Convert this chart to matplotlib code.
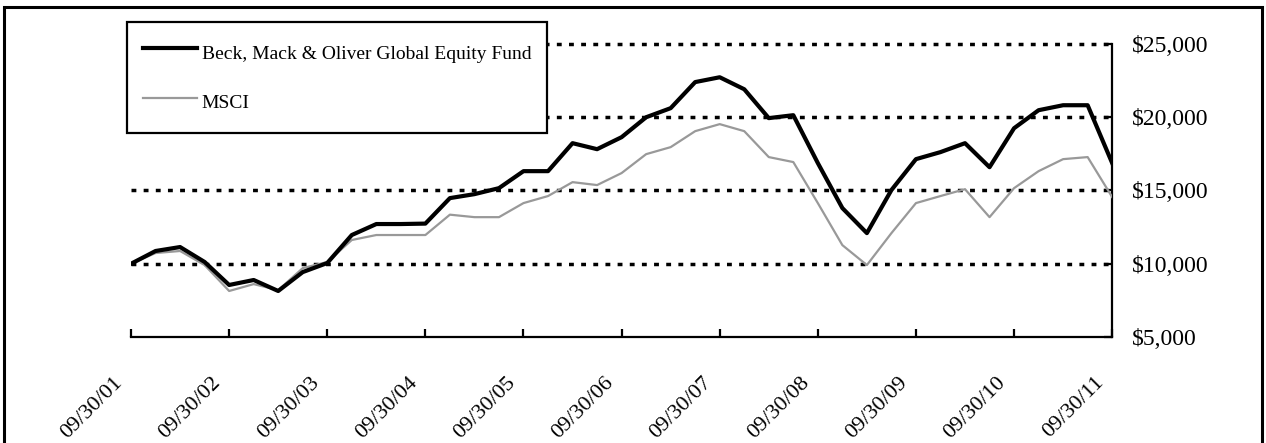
import numpy as np
import matplotlib.pyplot as plt
from matplotlib.patches import Rectangle
from matplotlib.transforms import ScaledTranslation

plt.rcParams['font.family'] = ['Liberation Serif', 'DejaVu Serif']

# quarterly values, 09/30/01 .. 09/30/11
fund = [10000, 10870, 11140, 10120, 8550, 8890, 8140, 9430, 10050, 11960,
        12710, 12710, 12740, 14480, 14750, 15160, 16320, 16320, 18230, 17820,
        18640, 20000, 20620, 22400, 22730, 21910, 19940, 20140, 16870, 13800,
        12090, 15030, 17140, 17620, 18230, 16590, 19250, 20480, 20820, 20820,
        16870]
msci = [10000, 10730, 10870, 9910, 8140, 8610, 8200, 9700, 10120, 11620,
        11960, 11960, 11960, 13350, 13180, 13180, 14140, 14620, 15570, 15370,
        16190, 17480, 17960, 19050, 19530, 19050, 17280, 16940, 14140, 11270,
        9910, 12090, 14140, 14620, 15090, 13180, 15160, 16320, 17140, 17280,
        14550]
year_labels = ['09/30/01', '09/30/02', '09/30/03', '09/30/04', '09/30/05', '09/30/06',
               '09/30/07', '09/30/08', '09/30/09', '09/30/10', '09/30/11']
y_ticks = [5000, 10000, 15000, 20000, 25000]

fig = plt.figure(figsize=(12.66, 4.43), dpi=100)
ax = fig.add_axes([0.1035, 0.2393, 0.775, 0.6614])

q = np.arange(len(fund))
ax.plot(q, msci, color='#999999', lw=1.6, label='MSCI', zorder=3)
ax.plot(q, fund, color='black', lw=3.0, label='Beck, Mack & Oliver Global Equity Fund', zorder=4)

ax.set_xlim(0, 40)
ax.set_ylim(5000, 25000)
ax.set_xticks(np.arange(0, 41, 4))
ax.set_xticklabels(year_labels)
ax.set_yticks(y_ticks)
ax.set_yticklabels(['$' + format(v, ',') for v in y_ticks])

for s in ['left', 'top']:
    ax.spines[s].set_visible(False)
for s in ['right', 'bottom']:
    ax.spines[s].set_linewidth(1.6)
ax.yaxis.tick_right()
ax.tick_params(axis='y', direction='in', length=6, width=1.6, labelsize=17, pad=14)
ax.tick_params(axis='x', direction='in', length=6, width=1.6, labelsize=16, pad=31)
shift = ScaledTranslation(-11 / 100, 0, fig.dpi_scale_trans)
for lab in ax.get_xticklabels():
    lab.set_rotation(45)
    lab.set_ha('right')
    lab.set_va('center')
    lab.set_rotation_mode('anchor')
    lab.set_transform(lab.get_transform() + shift)

for v in y_ticks[1:]:
    ax.axhline(v, color='black', lw=2.5, ls=(0, (1.4, 2.1)), zorder=2, clip_on=False)

h, l = ax.get_legend_handles_labels()
leg = ax.legend(h[::-1], l[::-1], loc='upper left', bbox_to_anchor=(127 / 1266, 1 - 22 / 443),
                bbox_transform=fig.transFigure, fontsize=14, frameon=True, fancybox=False,
                edgecolor='black', framealpha=1, handlelength=2.8, handletextpad=0.25,
                handleheight=2.0, labelspacing=1.0, borderpad=0.8, borderaxespad=0)
leg.get_frame().set_linewidth(1.6)

fig.patches.append(Rectangle((0.003, -0.2), 0.994, 1.185, transform=fig.transFigure,
                             fill=False, edgecolor='black', lw=2.2))

fig.savefig('out.png', dpi=100)
